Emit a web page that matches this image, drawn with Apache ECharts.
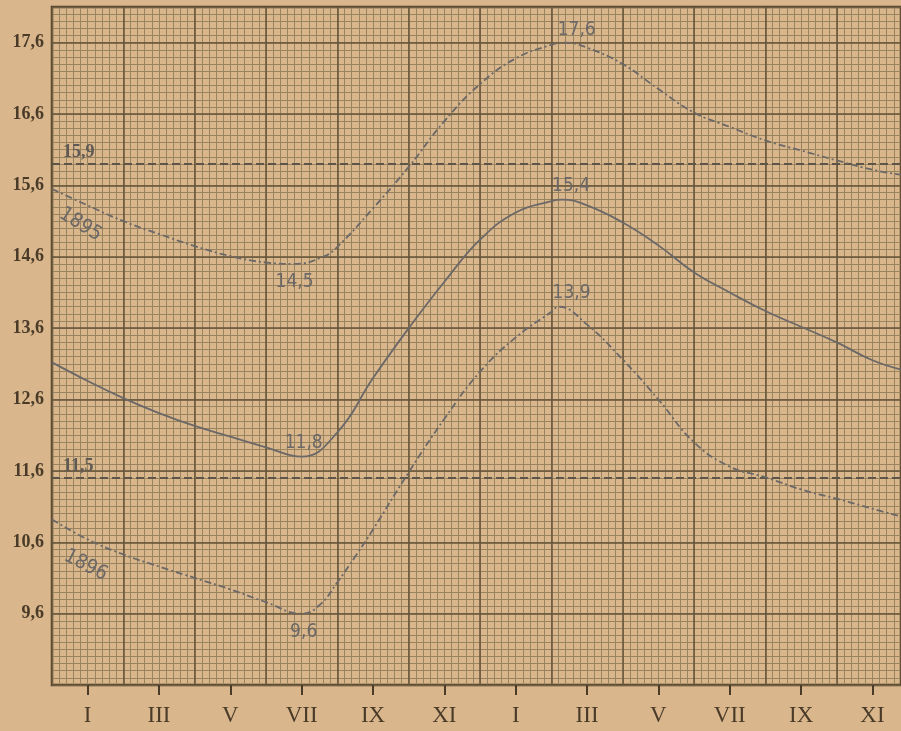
<!DOCTYPE html>
<html>
<head>
<meta charset="utf-8">
<script src="https://cdn.jsdelivr.net/npm/echarts@6/dist/echarts.min.js"></script>
<style>
  html, body { margin: 0; padding: 0; background: #d8b48a; }
  #chart { width: 901px; height: 731px; }
</style>
</head>
<body>
<div id="chart"></div>
<script>
// Month scale: 0 = start of the sheet, 1 = January of the first year, 13 = January of the second.
const monthLabels = ['I', 'III', 'V', 'VII', 'IX', 'XI', 'I', 'III', 'V', 'VII', 'IX', 'XI'];

const months1895 = [0, 1, 2, 3, 4, 5, 6, 6.8, 7.6, 8, 9, 10, 11, 12, 13, 14, 14.4, 15, 16, 17, 18, 19, 20, 21, 22, 23, 23.8];
const values1895 = [15.55, 15.32, 15.1, 14.92, 14.75, 14.61, 14.52, 14.5, 14.6, 14.74, 15.28, 15.86, 16.5, 17.02, 17.38, 17.57, 17.6, 17.53, 17.3, 16.95, 16.62, 16.42, 16.23, 16.09, 15.95, 15.82, 15.75];

const monthsMiddle = [0, 1, 2, 3, 4, 5, 6, 7, 8, 9, 10, 11, 12, 13, 14, 14.3, 15, 16, 17, 18, 19, 20, 21, 22, 23, 23.8];
const valuesMiddle = [13.12, 12.86, 12.62, 12.41, 12.23, 12.08, 11.93, 11.8, 12.14, 12.9, 13.6, 14.25, 14.84, 15.22, 15.38, 15.4, 15.32, 15.08, 14.76, 14.38, 14.1, 13.84, 13.62, 13.4, 13.15, 13.02];

const months1896 = [0, 1, 2, 3, 4, 5, 6, 7, 7.5, 8, 8.5, 9, 10, 11, 12, 13, 14, 14.2, 15, 16, 17, 18, 19, 20, 21, 22, 23, 23.8];
const values1896 = [10.92, 10.64, 10.43, 10.26, 10.1, 9.94, 9.76, 9.6, 9.72, 10.04, 10.4, 10.78, 11.58, 12.33, 12.99, 13.47, 13.83, 13.9, 13.65, 13.16, 12.6, 12.0, 11.66, 11.51, 11.34, 11.21, 11.07, 10.96];

const mean1895 = 15.9;
const mean1896 = 11.5;

const Y_MIN = 8.6, Y_MAX = 18.1, X_MAX = 23.8;

// ---- styling ----
const PAPER = '#d9b68c';
const INK = '#4a3b28';
const FINE = '#98845e';
const BOLD = '#65533a';
const PENCIL = '#6b6867';

const fmt = v => v.toFixed(1).replace('.', ',');

const curveLabel = {
  show: true,
  color: PENCIL,
  fontFamily: 'DejaVu Sans Condensed, DejaVu Sans, sans-serif',
  fontSize: 19
};

function buildData(xs, ys, marks) {
  return xs.map((x, i) => {
    const item = { value: [x, ys[i]] };
    if (marks[i]) item.label = Object.assign({}, curveLabel, marks[i]);
    return item;
  });
}

const valueFmt = p => fmt(p.value[1]);
const nameFmt = p => p.seriesName;

const data1895 = buildData(months1895, values1895, {
  1: { formatter: nameFmt, position: 'inside', offset: [4, 20], rotate: -32, fontSize: 20 },
  7: { formatter: valueFmt, position: 'bottom', offset: [0, 3] },
  16: { formatter: valueFmt, position: 'top', offset: [11, 2] }
});
const dataMiddle = buildData(monthsMiddle, valuesMiddle, {
  7: { formatter: valueFmt, position: 'top', offset: [2, 1] },
  15: { formatter: valueFmt, position: 'top', offset: [9, 1] }
});
const data1896 = buildData(months1896, values1896, {
  1: { formatter: nameFmt, position: 'inside', offset: [10, 24], rotate: -27, fontSize: 20 },
  7: { formatter: valueFmt, position: 'bottom', offset: [2, 3] },
  17: { formatter: valueFmt, position: 'top', offset: [13, 1] }
});

function meanLine(value) {
  return {
    silent: true,
    animation: false,
    symbol: ['none', 'none'],
    lineStyle: { type: [8, 4], width: 2, color: '#5c5548' },
    label: {
      position: 'insideStartTop',
      distance: [11, 3],
      formatter: fmt(value),
      color: '#5f5a55',
      fontFamily: 'Liberation Serif, serif',
      fontWeight: 'bold',
      fontSize: 18
    },
    data: [{ yAxis: value }]
  };
}

const chartEl = document.getElementById('chart');
const chart = echarts.init(chartEl, null, { renderer: 'canvas' });

const W = chartEl.clientWidth;
const plotLeft = 52, plotRight = 0, plotTop = 7, plotBottom = 46;
const monthStep = (W - plotLeft - plotRight) / X_MAX;
// second grid carries only the month ticks, spanning the first to the last labelled month
const tickLeft = plotLeft + monthStep;
const tickRight = W - (plotLeft + 23 * monthStep);

function lineSeries(name, data, dash, extra) {
  return Object.assign({
    name,
    type: 'line',
    xAxisIndex: 0,
    yAxisIndex: 0,
    data,
    smooth: 0.45,
    symbol: 'circle',
    symbolSize: 1,
    showSymbol: true,
    itemStyle: { color: 'rgba(0,0,0,0)' },
    lineStyle: { color: PENCIL, width: 1.8, type: dash },
    emphasis: { disabled: true },
    silent: true,
    z: 5
  }, extra || {});
}

chart.setOption({
  animation: false,
  backgroundColor: PAPER,
  grid: [
    { left: plotLeft, right: plotRight, top: plotTop, bottom: plotBottom,
      show: true, borderColor: '#4b3c27', borderWidth: 2.5, backgroundColor: 'transparent' },
    { left: tickLeft, right: tickRight, top: plotTop, bottom: plotBottom }
  ],
  xAxis: [
    { gridIndex: 0, type: 'value', min: 0, max: X_MAX, interval: 2, z: 2,
      axisLine: { show: false }, axisTick: { show: false }, axisLabel: { show: false },
      splitLine: { show: true, lineStyle: { color: BOLD, width: 1.5 } } },
    { gridIndex: 0, type: 'value', min: 0, max: X_MAX, interval: 0.2, z: 1,
      axisLine: { show: false }, axisTick: { show: false }, axisLabel: { show: false },
      splitLine: { show: true, lineStyle: { color: FINE, width: 1 } } },
    { gridIndex: 1, type: 'value', min: 0, max: 22, interval: 2, z: 3,
      axisLine: { show: false },
      axisTick: { show: true, length: 10, lineStyle: { color: INK, width: 2 } },
      axisLabel: { show: true, margin: 19, color: INK, fontFamily: 'Liberation Serif, serif', fontSize: 23,
        formatter: v => monthLabels[Math.round(v / 2)] || '' },
      splitLine: { show: false } }
  ],
  yAxis: [
    { gridIndex: 0, type: 'value', min: Y_MIN, max: Y_MAX, interval: 1, z: 2,
      axisLine: { show: false }, axisTick: { show: false },
      axisLabel: { show: true, margin: 8, color: INK, fontFamily: 'Liberation Serif, serif', fontWeight: 'bold',
        fontSize: 18, padding: [0, 0, 10, 0],
        formatter: v => (v < 9 || v > 18) ? '' : fmt(v) },
      splitLine: { show: true, lineStyle: { color: BOLD, width: 1.5 } } },
    { gridIndex: 0, type: 'value', min: Y_MIN, max: Y_MAX, interval: 0.1, z: 1,
      axisLine: { show: false }, axisTick: { show: false }, axisLabel: { show: false },
      splitLine: { show: true, lineStyle: { color: FINE, width: 1 } } },
    { gridIndex: 1, type: 'value', min: 0, max: 1, show: false }
  ],
  series: [
    lineSeries('1895', data1895, [7, 3, 2, 3], { markLine: meanLine(mean1895) }),
    lineSeries('middle', dataMiddle, 'solid'),
    lineSeries('1896', data1896, [7, 3, 2, 3], { markLine: meanLine(mean1896) })
  ]
});
</script>
</body>
</html>
